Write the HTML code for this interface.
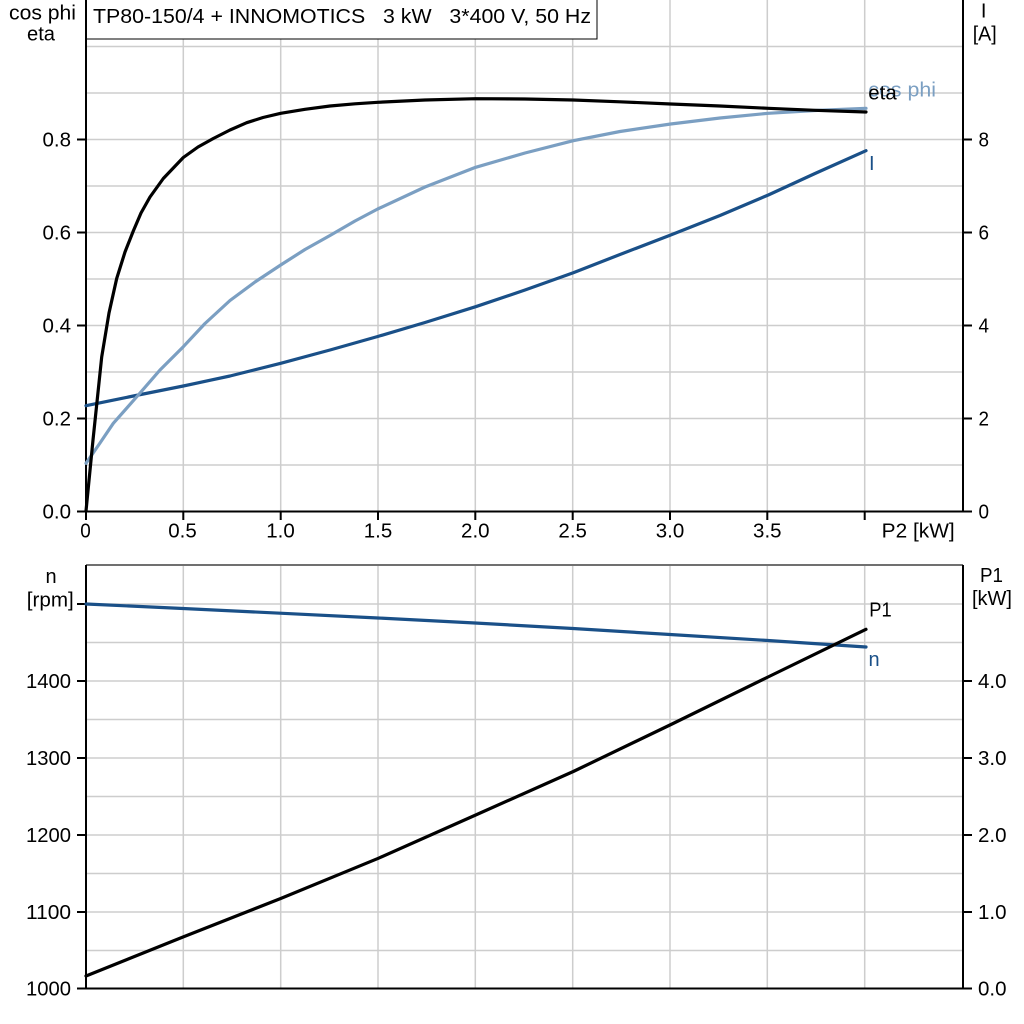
<!DOCTYPE html>
<html><head><meta charset="utf-8"><style>
html,body{margin:0;padding:0;background:#fff;}
svg{display:block;}
text{font-family:"Liberation Sans",Arial,sans-serif;font-size:20px;fill:#000;}
</style></head><body>
<svg width="1024" height="1024" viewBox="0 0 1024 1024" xmlns="http://www.w3.org/2000/svg">
<rect width="1024" height="1024" fill="#fff"/>
<!-- TOP PANEL GRID -->
<g stroke="#cdcdcd" stroke-width="1.5" fill="none">
<path d="M183.3 0V512M280.7 0V512M378 0V512M475.3 0V512M572.7 0V512M670 0V512M767.3 0V512M864.7 0V512"/>
<path d="M86 46.5H963M86 93H963M86 139.5H963M86 186H963M86 232.5H963M86 279H963M86 325.5H963M86 372H963M86 418.5H963M86 465H963"/>
</g>
<!-- BOTTOM PANEL GRID -->
<g stroke="#cdcdcd" stroke-width="1.5" fill="none">
<path d="M183.3 565V989M280.7 565V989M378 565V989M475.3 565V989M572.7 565V989M670 565V989M767.3 565V989M864.7 565V989"/>
<path d="M86 604H963M86 642.5H963M86 681H963M86 719.5H963M86 758H963M86 796.5H963M86 835H963M86 873.5H963M86 912H963M86 950.5H963"/>
</g>
<!-- Title box -->
<rect x="86" y="-1" width="511" height="40" fill="#fff" stroke="#000" stroke-width="1"/>
<text x="93" y="23" font-size="20.5" textLength="498" lengthAdjust="spacingAndGlyphs" xml:space="preserve">TP80-150/4 + INNOMOTICS   3 kW   3*400 V, 50 Hz</text>
<!-- TOP axes -->
<g stroke="#000" stroke-width="2" fill="none">
<path d="M86 0V512.5M85 511.5H963M963 0V512.5"/>
<path d="M77 511.5H86M77 418.5H86M77 325.5H86M77 232.5H86M77 139.5H86"/>
<path d="M963 511.5H972M963 418.5H972M963 325.5H972M963 232.5H972M963 139.5H972"/>
<path d="M86 511V520M183.3 511V520M280.7 511V520M378 511V520M475.3 511V520M572.7 511V520M670 511V520M767.3 511V520M864.7 511V520"/>
</g>
<!-- top labels -->
<g text-anchor="end">
<text x="71" y="518.5" textLength="28.5" lengthAdjust="spacingAndGlyphs">0.0</text>
<text x="71" y="425.5" textLength="28.5" lengthAdjust="spacingAndGlyphs">0.2</text>
<text x="71" y="332.5" textLength="28.5" lengthAdjust="spacingAndGlyphs">0.4</text>
<text x="71" y="239.5" textLength="28.5" lengthAdjust="spacingAndGlyphs">0.6</text>
<text x="71" y="146.5" textLength="28.5" lengthAdjust="spacingAndGlyphs">0.8</text>
</g>
<g>
<text x="978.5" y="518.5" textLength="10.5" lengthAdjust="spacingAndGlyphs">0</text>
<text x="978.5" y="425.5" textLength="10.5" lengthAdjust="spacingAndGlyphs">2</text>
<text x="978.5" y="332.5" textLength="10.5" lengthAdjust="spacingAndGlyphs">4</text>
<text x="978.5" y="239.5" textLength="10.5" lengthAdjust="spacingAndGlyphs">6</text>
<text x="978.5" y="146.5" textLength="10.5" lengthAdjust="spacingAndGlyphs">8</text>
</g>
<g text-anchor="middle">
<text x="85.5" y="537.5" textLength="10.5" lengthAdjust="spacingAndGlyphs">0</text>
<text x="182.5" y="537.5" textLength="28.5" lengthAdjust="spacingAndGlyphs">0.5</text>
<text x="280.5" y="537.5" textLength="28.5" lengthAdjust="spacingAndGlyphs">1.0</text>
<text x="378" y="537.5" textLength="28.5" lengthAdjust="spacingAndGlyphs">1.5</text>
<text x="475.3" y="537.5" textLength="28.5" lengthAdjust="spacingAndGlyphs">2.0</text>
<text x="572.7" y="537.5" textLength="28.5" lengthAdjust="spacingAndGlyphs">2.5</text>
<text x="670" y="537.5" textLength="28.5" lengthAdjust="spacingAndGlyphs">3.0</text>
<text x="767.3" y="537.5" textLength="28.5" lengthAdjust="spacingAndGlyphs">3.5</text>
<text x="42.5" y="19.5" textLength="67" lengthAdjust="spacingAndGlyphs">cos phi</text>
<text x="41" y="40.5" textLength="28" lengthAdjust="spacingAndGlyphs">eta</text>
<text x="983.7" y="17.5">I</text>
<text x="984.7" y="40.5" textLength="24" lengthAdjust="spacingAndGlyphs">[A]</text>
</g>
<text x="881.7" y="537.5" textLength="73" lengthAdjust="spacingAndGlyphs">P2 [kW]</text>
<!-- top curves -->
<g fill="none" stroke-width="3.2" stroke-linejoin="round" stroke-linecap="round">
<path stroke="#1a5088" d="M86 405.7L138.3 395L183.3 386L230 376L280.7 363.3L330 350L377.7 336.5L425 322.5L475.7 306.7L525 290L573.3 272.7L620 254.5L670.7 235L720 215.5L768.3 195L815 173.5L866 150.7"/>
<path stroke="#7b9fc2" d="M86 463.3L100 443L113.3 423.3L138.3 395L160 370L183.3 346.7L205 323.5L230 300.5L255 282L280.7 265L305 249.5L330 235.5L355 221L377.7 209L425 187L475.7 167.3L525 153L573.3 140.7L620 131.5L670.7 124L720 118L768.3 113.3L815 110.5L866 108.3"/>
<path stroke="#000" d="M86 511L93 440L101.7 357L109 313L116.7 278.5L125 252L133.3 231L141 213L150 197L163.3 178.5L183.3 157.5L198 147L213.3 138.5L230 130L246.7 122.7L263 117.5L280.7 113.3L305 109.3L330 106L355 103.8L377.7 102.3L425 100L475.7 98.7L525 99L573.3 100L620 101.8L670.7 104L720 106L768.3 108.3L815 110.3L866 112"/>
</g>
<text x="868.3" y="96.7" style="fill:#7b9fc2" textLength="67.7" lengthAdjust="spacingAndGlyphs">cos phi</text>
<text x="868.3" y="99.3" textLength="28.4" lengthAdjust="spacingAndGlyphs">eta</text>
<text x="869" y="170" style="fill:#1a5088">I</text>
<!-- BOTTOM axes -->
<path d="M86 565H963" stroke="#707070" stroke-width="2" fill="none"/>
<g stroke="#000" stroke-width="2" fill="none">
<path d="M86 565V989.5M85 988.5H964M963 565V989.5"/>
<path d="M77 988.5H86M77 912H86M77 835H86M77 758H86M77 681H86M77 604H86"/>
<path d="M963 988.5H972M963 912H972M963 835H972M963 758H972M963 681H972"/>
</g>
<g text-anchor="end">
<text x="71" y="995.5" textLength="45" lengthAdjust="spacingAndGlyphs">1000</text>
<text x="71" y="919" textLength="45" lengthAdjust="spacingAndGlyphs">1100</text>
<text x="71" y="842" textLength="45" lengthAdjust="spacingAndGlyphs">1200</text>
<text x="71" y="765" textLength="45" lengthAdjust="spacingAndGlyphs">1300</text>
<text x="71" y="688" textLength="45" lengthAdjust="spacingAndGlyphs">1400</text>
</g>
<g>
<text x="978" y="995.5" textLength="28.5" lengthAdjust="spacingAndGlyphs">0.0</text>
<text x="978" y="919" textLength="28.5" lengthAdjust="spacingAndGlyphs">1.0</text>
<text x="978" y="842" textLength="28.5" lengthAdjust="spacingAndGlyphs">2.0</text>
<text x="978" y="765" textLength="28.5" lengthAdjust="spacingAndGlyphs">3.0</text>
<text x="978" y="688" textLength="28.5" lengthAdjust="spacingAndGlyphs">4.0</text>
</g>
<g text-anchor="middle">
<text x="51" y="583">n</text>
<text x="50.3" y="606.5" textLength="47" lengthAdjust="spacingAndGlyphs">[rpm]</text>
<text x="991.5" y="582" textLength="23" lengthAdjust="spacingAndGlyphs">P1</text>
<text x="992" y="605" textLength="40" lengthAdjust="spacingAndGlyphs">[kW]</text>
</g>
<!-- bottom curves -->
<g fill="none" stroke-width="3.2" stroke-linejoin="round" stroke-linecap="round">
<path stroke="#1a5088" d="M86 604L183 608.5L280 613.2L378 618L475 623L573 628.5L670 634.5L768 640.5L866 647"/>
<path stroke="#000" d="M86 976L183 937L280.7 898.5L378.3 858.3L475.7 815L573.3 771.5L671 724.5L768 677L866 629.3"/>
</g>
<text x="869.3" y="616.7" textLength="22.4" lengthAdjust="spacingAndGlyphs">P1</text>
<text x="868.5" y="666" style="fill:#1a5088">n</text>
</svg>
</body></html>
